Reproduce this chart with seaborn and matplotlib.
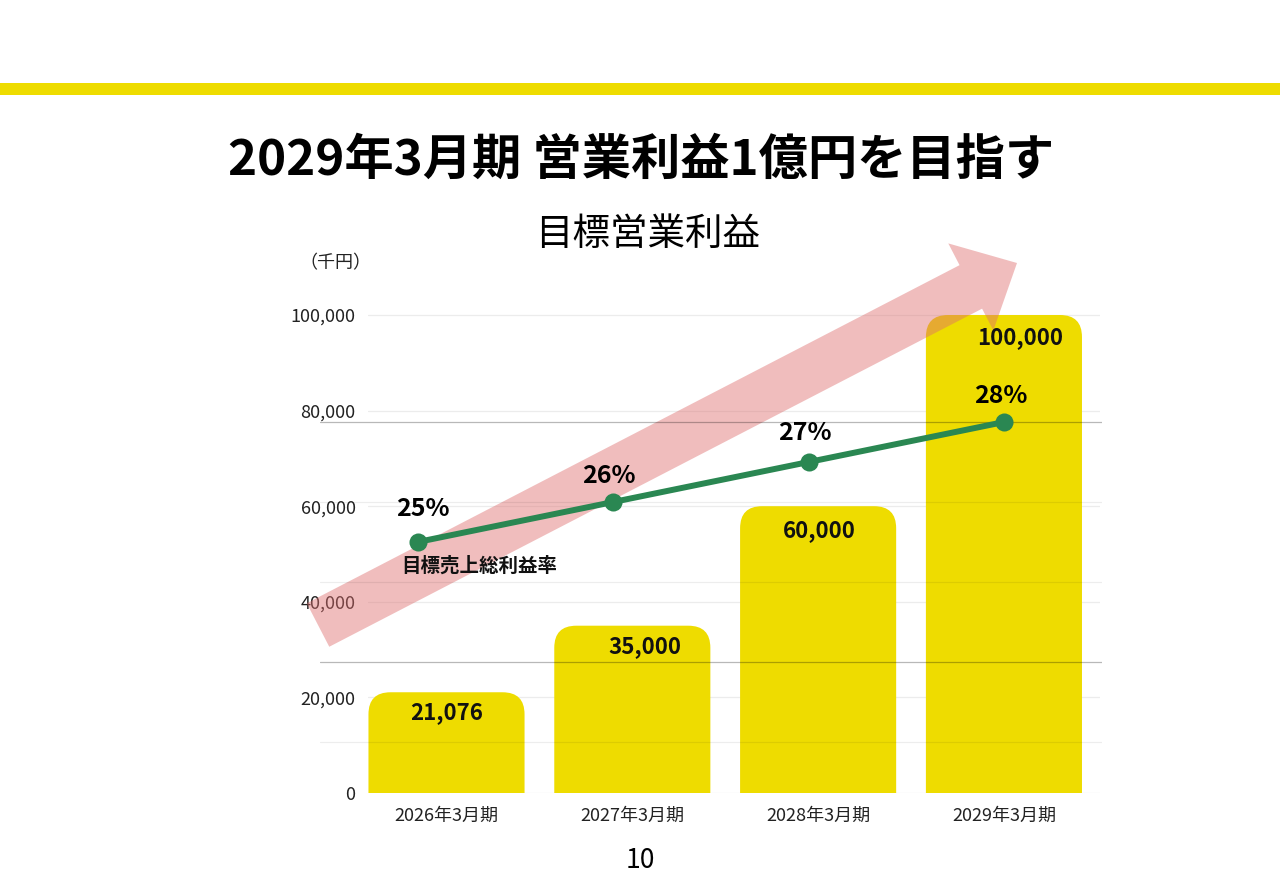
import numpy as np
import matplotlib
matplotlib.use("Agg")
import matplotlib.pyplot as plt
from matplotlib.patches import FancyBboxPatch, FancyArrow, Rectangle
from matplotlib.transforms import Affine2D, offset_copy
import seaborn as sns

# ---------------- data ----------------
categories = ["2026年3月期", "2027年3月期", "2028年3月期", "2029年3月期"]
profit = [21076, 35000, 60000, 100000]          # 目標営業利益 (千円)
profit_labels = ["21,076", "35,000", "60,000", "100,000"]
margin = [25, 26, 27, 28]                        # 目標売上総利益率 (%)
margin_labels = ["25%", "26%", "27%", "28%"]
yticks = [0, 20000, 40000, 60000, 80000, 100000]
ytick_labels = ["0", "20,000", "40,000", "60,000", "80,000", "100,000"]

title = "2029年3月期 営業利益1億円を目指す"
subtitle = "目標営業利益"
unit = "（千円）"
line_name = "目標売上総利益率"
page = "10"

# ---------------- style ----------------
sns.set_theme(style="white")
plt.rcParams["font.family"] = ["Noto Sans CJK JP", "DejaVu Sans"]

YELLOW = "#EEDC00"
GREEN = "#2A8752"
PINK = "#DE6E6E"
W, H = 1280, 886

fig = plt.figure(figsize=(W / 100, H / 100), dpi=100)
fig.patch.set_facecolor("white")

def px_rect(x0, y0, x1, y1):
    return [x0 / W, 1 - y1 / H, (x1 - x0) / W, (y1 - y0) / H]

# pixel transform (image coords, y down)
pix = Affine2D().scale(1 / W, -1 / H).translate(0, 1) + fig.transFigure

# top yellow band
fig.add_artist(Rectangle((0, 83), W, 12, transform=pix, color=YELLOW, lw=0))

# titles
fig.text(641 / W, 1 - 160 / H, title, ha="center", va="center",
         fontsize=35.5, fontweight="bold", color="black")
fig.text(648 / W, 1 - 234 / H, subtitle, ha="center", va="center",
         fontsize=27, color="black")
fig.text(335 / W, 1 - 263 / H, unit, ha="center", va="center",
         fontsize=13, color="#222222")
fig.text(640 / W, 1 - 861 / H, page, ha="center", va="center",
         fontsize=19, color="black")

# ---------------- bar chart (primary) ----------------
ax = fig.add_axes(px_rect(368, 300, 1100, 793))
ax.set_facecolor("none")
x_pos = np.arange(len(categories))
sns.barplot(x=x_pos, y=profit, ax=ax, color=YELLOW, saturation=1,
            width=0.84, order=list(x_pos))
ax.set_xlim(-0.4225, 3.517)
ax.set_ylim(0, 100000 * (793 - 300) / (793 - 315))
ax.set_yticks(yticks)
ax.set_yticklabels(ytick_labels)
ax.set_xticks(x_pos)
ax.set_xticklabels(categories)
ax.tick_params(axis="both", length=0, labelsize=13, labelcolor="#222222")
ax.tick_params(axis="y", pad=9)
ax.tick_params(axis="x", pad=10)
for s in ax.spines.values():
    s.set_visible(False)
ax.set_xlabel("")
ax.set_ylabel("")
for yv in yticks:
    ax.axhline(yv, color="#ececec", lw=0.9, zorder=0)

# rounded-top bars built from seaborn's bar geometry
fig.canvas.draw()
p0 = ax.transData.transform((0, 0))
p1 = ax.transData.transform((1, 1000))
px_per_x = p1[0] - p0[0]
px_per_y = (p1[1] - p0[1]) / 1000
aspect = (1 / px_per_y) / (1 / px_per_x)
r = 22 / px_per_x
for bar in list(ax.patches):
    bx, bw, bh = bar.get_x(), bar.get_width(), bar.get_height()
    bar.set_visible(False)
    rb = FancyBboxPatch((bx, -20000), bw, bh + 20000,
                        boxstyle=f"round,pad=0,rounding_size={r}",
                        mutation_aspect=aspect, facecolor=YELLOW,
                        edgecolor="none", zorder=2)
    ax.add_patch(rb)

# value labels on bars
label_dx = [0, 13, 1, 16]      # pixel offsets
label_dy = [-20, -21, -24, -23]
for i, (v, t) in enumerate(zip(profit, profit_labels)):
    tr = offset_copy(ax.transData, fig=fig, x=label_dx[i] * 0.72,
                     y=label_dy[i] * 0.72, units="points")
    ax.text(i, v, t, transform=tr, ha="center", va="center",
            fontsize=16, fontweight="bold", color="#111111", zorder=6)

# pink trend arrow
arrow = FancyArrow(318, 625, 699, -362, width=49, head_width=98,
                   head_length=52, length_includes_head=True,
                   transform=pix, facecolor=PINK, edgecolor="none",
                   alpha=0.45, zorder=3, clip_on=False)
ax.add_patch(arrow)

# ---------------- line chart (overlay) ----------------
ax2 = fig.add_axes(px_rect(320, 300, 1102, 793))
ax2.set_facecolor("none")
ax2.set_xlim(-0.5, 3.5)
ax2.set_ylim(25 - (793 - 542) / 40, 25 + (542 - 300) / 40)
for gv, ga in [(20, 0.07), (22, 0.28), (24, 0.07), (26, 0.07), (28, 0.28)]:
    ax2.axhline(gv, color="black", alpha=ga, lw=0.9, zorder=0)
sns.lineplot(x=x_pos, y=margin, ax=ax2, color=GREEN, lw=4.3, marker="o",
             markersize=13, markeredgewidth=0, zorder=4)
ax2.set_xticks([])
ax2.set_yticks([])
ax2.set_xlabel("")
ax2.set_ylabel("")
for s in ax2.spines.values():
    s.set_visible(False)

pct_dx = [5, -4, -4, -3]
pct_dy = [33, 26, 29, 26]
for i, (v, t) in enumerate(zip(margin, margin_labels)):
    ax2.annotate(t, (i, v), xytext=(pct_dx[i] * 0.72, pct_dy[i] * 0.72),
                 textcoords="offset points", ha="center", va="center",
                 fontsize=18, fontweight="bold", color="black", zorder=6)

ax2.annotate(line_name, (0, margin[0]), xytext=(-17 * 0.72, -24 * 0.72),
             textcoords="offset points", ha="left", va="center",
             fontsize=14, fontweight="bold", color="#111111", zorder=6)

fig.savefig("out.png", dpi=100, facecolor="white")
